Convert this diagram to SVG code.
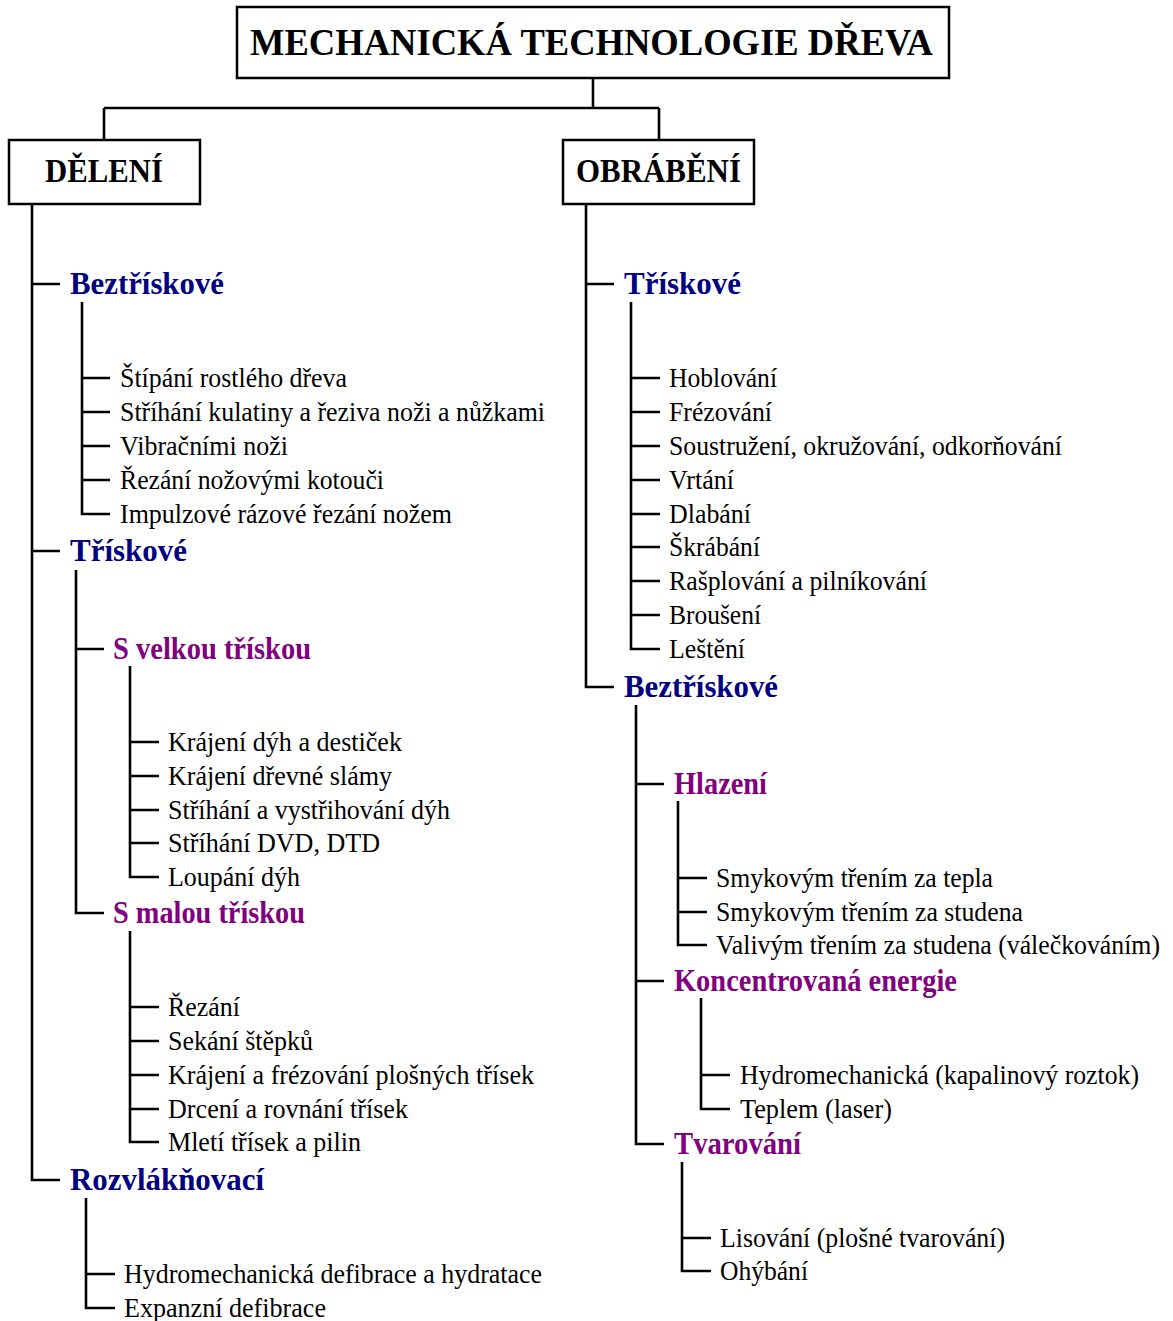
<svg xmlns="http://www.w3.org/2000/svg" width="1173" height="1321" viewBox="0 0 1173 1321">
<style>
text{font-family:"Liberation Serif","Times New Roman",serif;}
.box{fill:#fff;stroke:#000;stroke-width:2.5;}
.title{font-size:38px;font-weight:bold;fill:#000;}
.main{font-size:33px;font-weight:bold;fill:#000;}
.l1{font-size:31px;font-weight:bold;fill:#000080;}
.l2{font-size:31px;font-weight:bold;fill:#800080;}
.it{font-size:28px;fill:#000;}
.c{fill:none;stroke:#000;stroke-width:2.6;stroke-linejoin:miter;}
</style>
<rect width="1173" height="1321" fill="#fff"/>
<g id="connectors" class="c">
<path class="c" d="M593 78V108M104 108H659M104 108V140M659 108V140"/>
<path class="c" d="M32 204V1180H60M32 284H60M32 551H60"/>
<path class="c" d="M82 302V514H110M82 378H110M82 412H110M82 446H110M82 480H110"/>
<path class="c" d="M76 570V913H104M76 649H104"/>
<path class="c" d="M130 666V877H159M130 742H159M130 776H159M130 810H159M130 843H159"/>
<path class="c" d="M130 931V1142H159M130 1007H159M130 1041H159M130 1075H159M130 1109H159"/>
<path class="c" d="M86 1198V1308H115M86 1274H115"/>
<path class="c" d="M586 204V687H614M586 284H614"/>
<path class="c" d="M631 302V649H660M631 378H660M631 412H660M631 446H660M631 480H660M631 514H660M631 547H660M631 581H660M631 615H660"/>
<path class="c" d="M636 705V1144H664M636 784H664M636 981H664"/>
<path class="c" d="M678 801V945H707M678 878H707M678 912H707"/>
<path class="c" d="M701 998V1109H730M701 1075H730"/>
<path class="c" d="M682 1162V1271H711M682 1238H711"/>
</g>
<g id="root"><rect class="box" x="237" y="7" width="712" height="71"/><text class="title" x="250" y="55" textLength="683" lengthAdjust="spacingAndGlyphs">MECHANICKÁ TECHNOLOGIE DŘEVA</text></g>
<g id="deleni"><rect class="box" x="9" y="140" width="191" height="64"/><text class="main" x="45" y="182" textLength="118" lengthAdjust="spacingAndGlyphs">DĚLENÍ</text></g>
<g id="obrabeni"><rect class="box" x="563" y="140" width="191" height="64"/><text class="main" x="576" y="182" textLength="165" lengthAdjust="spacingAndGlyphs">OBRÁBĚNÍ</text></g>

<g id="d-beztriskove"><text class="l1" x="70" y="294" textLength="154" lengthAdjust="spacingAndGlyphs">Beztřískové</text></g>
<g id="d-b-1"><text class="it" x="120" y="387" textLength="227" lengthAdjust="spacingAndGlyphs">Štípání rostlého dřeva</text></g>
<g id="d-b-2"><text class="it" x="120" y="421" textLength="425" lengthAdjust="spacingAndGlyphs">Stříhání kulatiny a řeziva noži a nůžkami</text></g>
<g id="d-b-3"><text class="it" x="120" y="455" textLength="168" lengthAdjust="spacingAndGlyphs">Vibračními noži</text></g>
<g id="d-b-4"><text class="it" x="120" y="489" textLength="264" lengthAdjust="spacingAndGlyphs">Řezání nožovými kotouči</text></g>
<g id="d-b-5"><text class="it" x="120" y="523" textLength="332" lengthAdjust="spacingAndGlyphs">Impulzové rázové řezání nožem</text></g>

<g id="d-triskove"><text class="l1" x="70" y="561" textLength="117" lengthAdjust="spacingAndGlyphs">Třískové</text></g>
<g id="d-t-velkou"><text class="l2" x="113" y="659" textLength="198" lengthAdjust="spacingAndGlyphs">S velkou třískou</text></g>
<g id="d-tv-1"><text class="it" x="168" y="751" textLength="234" lengthAdjust="spacingAndGlyphs">Krájení dýh a destiček</text></g>
<g id="d-tv-2"><text class="it" x="168" y="785" textLength="224" lengthAdjust="spacingAndGlyphs">Krájení dřevné slámy</text></g>
<g id="d-tv-3"><text class="it" x="168" y="819" textLength="282" lengthAdjust="spacingAndGlyphs">Stříhání a vystřihování dýh</text></g>
<g id="d-tv-4"><text class="it" x="168" y="852" textLength="212" lengthAdjust="spacingAndGlyphs">Stříhání DVD, DTD</text></g>
<g id="d-tv-5"><text class="it" x="168" y="886" textLength="132" lengthAdjust="spacingAndGlyphs">Loupání dýh</text></g>
<g id="d-t-malou"><text class="l2" x="113" y="923" textLength="192" lengthAdjust="spacingAndGlyphs">S malou třískou</text></g>
<g id="d-tm-1"><text class="it" x="168" y="1016" textLength="72" lengthAdjust="spacingAndGlyphs">Řezání</text></g>
<g id="d-tm-2"><text class="it" x="168" y="1050" textLength="145" lengthAdjust="spacingAndGlyphs">Sekání štěpků</text></g>
<g id="d-tm-3"><text class="it" x="168" y="1084" textLength="366" lengthAdjust="spacingAndGlyphs">Krájení a frézování plošných třísek</text></g>
<g id="d-tm-4"><text class="it" x="168" y="1118" textLength="240" lengthAdjust="spacingAndGlyphs">Drcení a rovnání třísek</text></g>
<g id="d-tm-5"><text class="it" x="168" y="1151" textLength="193" lengthAdjust="spacingAndGlyphs">Mletí třísek a pilin</text></g>

<g id="d-rozvlaknovaci"><text class="l1" x="70" y="1190" textLength="194" lengthAdjust="spacingAndGlyphs">Rozvlákňovací</text></g>
<g id="d-r-1"><text class="it" x="124" y="1283" textLength="418" lengthAdjust="spacingAndGlyphs">Hydromechanická defibrace a hydratace</text></g>
<g id="d-r-2"><text class="it" x="124" y="1317" textLength="202" lengthAdjust="spacingAndGlyphs">Expanzní defibrace</text></g>

<g id="o-triskove"><text class="l1" x="624" y="294" textLength="117" lengthAdjust="spacingAndGlyphs">Třískové</text></g>
<g id="o-t-1"><text class="it" x="669" y="387" textLength="108" lengthAdjust="spacingAndGlyphs">Hoblování</text></g>
<g id="o-t-2"><text class="it" x="669" y="421" textLength="103" lengthAdjust="spacingAndGlyphs">Frézování</text></g>
<g id="o-t-3"><text class="it" x="669" y="455" textLength="393" lengthAdjust="spacingAndGlyphs">Soustružení, okružování, odkorňování</text></g>
<g id="o-t-4"><text class="it" x="669" y="489" textLength="65" lengthAdjust="spacingAndGlyphs">Vrtání</text></g>
<g id="o-t-5"><text class="it" x="669" y="523" textLength="82" lengthAdjust="spacingAndGlyphs">Dlabání</text></g>
<g id="o-t-6"><text class="it" x="669" y="556" textLength="91" lengthAdjust="spacingAndGlyphs">Škrábání</text></g>
<g id="o-t-7"><text class="it" x="669" y="590" textLength="258" lengthAdjust="spacingAndGlyphs">Rašplování a pilníkování</text></g>
<g id="o-t-8"><text class="it" x="669" y="624" textLength="92" lengthAdjust="spacingAndGlyphs">Broušení</text></g>
<g id="o-t-9"><text class="it" x="669" y="658" textLength="76" lengthAdjust="spacingAndGlyphs">Leštění</text></g>

<g id="o-beztriskove"><text class="l1" x="624" y="697" textLength="154" lengthAdjust="spacingAndGlyphs">Beztřískové</text></g>
<g id="o-b-hlazeni"><text class="l2" x="674" y="794" textLength="93" lengthAdjust="spacingAndGlyphs">Hlazení</text></g>
<g id="o-bh-1"><text class="it" x="716" y="887" textLength="277" lengthAdjust="spacingAndGlyphs">Smykovým třením za tepla</text></g>
<g id="o-bh-2"><text class="it" x="716" y="921" textLength="307" lengthAdjust="spacingAndGlyphs">Smykovým třením za studena</text></g>
<g id="o-bh-3"><text class="it" x="716" y="954" textLength="444" lengthAdjust="spacingAndGlyphs">Valivým třením za studena (válečkováním)</text></g>
<g id="o-b-koncentrovana"><text class="l2" x="674" y="991" textLength="283" lengthAdjust="spacingAndGlyphs">Koncentrovaná energie</text></g>
<g id="o-bk-1"><text class="it" x="740" y="1084" textLength="399" lengthAdjust="spacingAndGlyphs">Hydromechanická (kapalinový roztok)</text></g>
<g id="o-bk-2"><text class="it" x="740" y="1118" textLength="152" lengthAdjust="spacingAndGlyphs">Teplem (laser)</text></g>
<g id="o-b-tvarovani"><text class="l2" x="674" y="1154" textLength="127" lengthAdjust="spacingAndGlyphs">Tvarování</text></g>
<g id="o-bt-1"><text class="it" x="720" y="1247" textLength="285" lengthAdjust="spacingAndGlyphs">Lisování (plošné tvarování)</text></g>
<g id="o-bt-2"><text class="it" x="720" y="1280" textLength="88" lengthAdjust="spacingAndGlyphs">Ohýbání</text></g>
</svg>
